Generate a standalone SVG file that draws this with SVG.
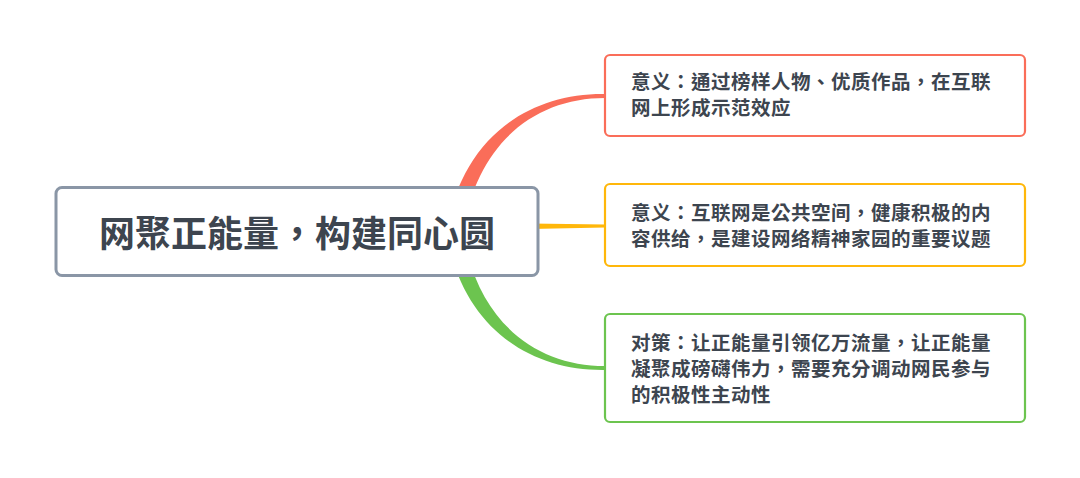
<svg xmlns="http://www.w3.org/2000/svg" width="1080" height="478" viewBox="0 0 1080 478">
<style>
.t{font-family:"Noto Sans CJK TC","Noto Sans CJK SC",sans-serif;font-weight:700;fill:#3d454f}
.bt{font-size:19.5px;letter-spacing:0.5px}
.box{fill:#fff;stroke-width:2.2}
</style>
<rect width="1080" height="478" fill="#fff"/>
<g id="connectors">
<path d="M446 232 C462 138 528 93 605 94 L605 98 C535 98 477 143 463 232 Z" fill="#fa6d59"/>
<path d="M446 232 C462 326 528 371 605 370 L605 366 C535 366 477 321 463 232 Z" fill="#6cc44f"/>
<path d="M530 223.5 L605 224.5 L605 227.5 L530 229 Z" fill="#ffb70a"/>
</g>
<g id="center">
<rect x="56" y="187.5" width="482" height="88" rx="6" fill="#fff" stroke="#8a96a6" stroke-width="3"/>
<text class="t" x="297" y="247" font-size="36" text-anchor="middle">网聚正能量，构建同心圆</text>
</g>
<g id="node1">
<rect class="box" x="605" y="55" width="420" height="81" rx="5" stroke="#fa6d59"/>
<text class="t bt" x="631" y="89">意义：通过榜样人物、优质作品，在互联</text>
<text class="t bt" x="631" y="115">网上形成示范效应</text>
</g>
<g id="node2">
<rect class="box" x="605" y="184" width="420" height="82" rx="5" stroke="#ffb70a"/>
<text class="t bt" x="631" y="220">意义：互联网是公共空间，健康积极的内</text>
<text class="t bt" x="631" y="246">容供给，是建设网络精神家园的重要议题</text>
</g>
<g id="node3">
<rect class="box" x="605" y="314" width="420" height="108" rx="5" stroke="#6cc44f"/>
<text class="t bt" x="631" y="350">对策：让正能量引领亿万流量，让正能量</text>
<text class="t bt" x="631" y="376">凝聚成磅礴伟力，需要充分调动网民参与</text>
<text class="t bt" x="631" y="402">的积极性主动性</text>
</g>
</svg>
